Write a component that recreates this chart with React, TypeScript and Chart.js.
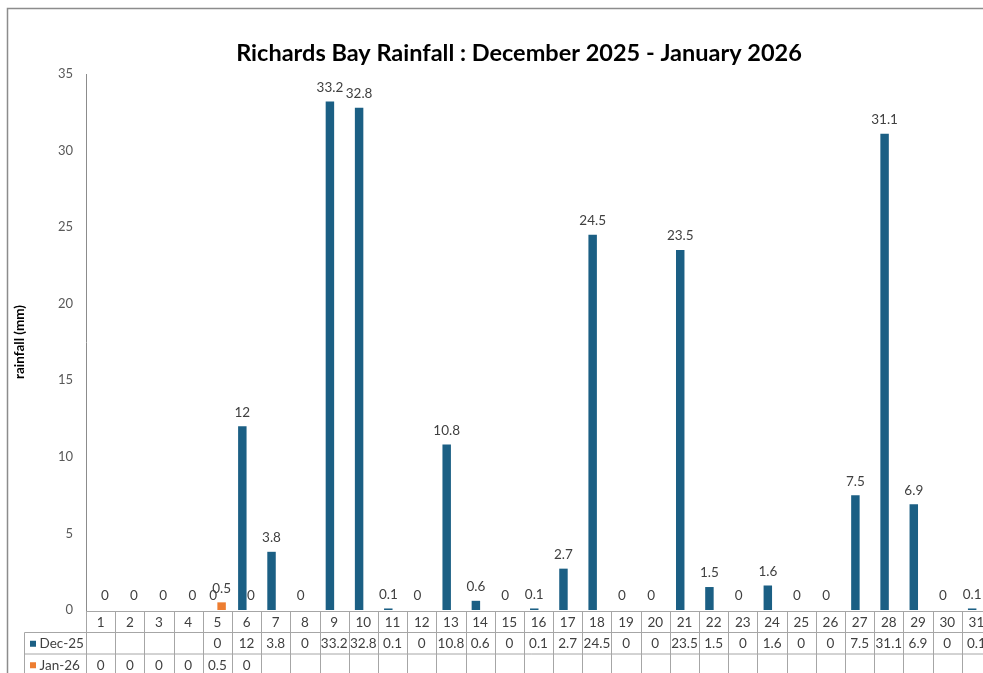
import React, { useEffect, useRef } from "react";
import { Chart, registerables } from "chart.js";

Chart.register(...registerables);

const days: string[] = [
  "1","2","3","4","5","6","7","8","9","10","11","12","13","14","15","16",
  "17","18","19","20","21","22","23","24","25","26","27","28","29","30","31",
];
const dec25: (number | null)[] = [
  null, null, null, null, 0, 12, 3.8, 0, 33.2, 32.8, 0.1, 0, 10.8, 0.6, 0, 0.1,
  2.7, 24.5, 0, 0, 23.5, 1.5, 0, 1.6, 0, 0, 7.5, 31.1, 6.9, 0, 0.1,
];
const jan26: (number | null)[] = [
  0, 0, 0, 0, 0.5, 0, null, null, null, null, null, null, null, null, null, null,
  null, null, null, null, null, null, null, null, null, null, null, null, null, null, null,
];
const seriesNames: string[] = ["Dec-25", "Jan-26"];
const seriesColors: string[] = ["#1B5F84", "#ED7D31"];
const yTicks: number[] = [0, 5, 10, 15, 20, 25, 30, 35];
const chartTitle = "Richards Bay Rainfall : December 2025 - January 2026";

const FONT = "Lato, 'Open Sans', sans-serif";
const TEXT = "#404040";
const LINE = "#A6A6A6";

const tablePlugin = {
  id: "tablePlugin",
  afterDraw(chart: any) {
    const ctx = chart.ctx as CanvasRenderingContext2D;
    const area = chart.chartArea;
    const x = chart.scales.x;
    const n = days.length;
    const w = (area.right - area.left) / n;
    const top = area.bottom + 1;
    const rowH = 21.5;
    const legendLeft = 24.5;
    const W = chart.width;
    const H = chart.height;
    ctx.save();

    // outer frame
    ctx.strokeStyle = "#8C8C8C";
    ctx.lineWidth = 1.5;
    ctx.beginPath();
    ctx.moveTo(7.5, H + 5);
    ctx.lineTo(7.5, 8.5);
    ctx.lineTo(W + 5, 8.5);
    ctx.stroke();

    // title
    ctx.fillStyle = "#000000";
    ctx.font = `bold 23.5px ${FONT}`;
    ctx.textAlign = "center";
    ctx.textBaseline = "middle";
    ctx.fillText(chartTitle, 519, 53);

    // data labels
    ctx.font = `13.5px ${FONT}`;
    ctx.fillStyle = TEXT;
    ctx.textAlign = "center";
    ctx.textBaseline = "middle";
    [dec25, jan26].forEach((arr, di) => {
      const meta = chart.getDatasetMeta(di);
      meta.data.forEach((bar: any, i: number) => {
        const v = arr[i];
        if (v === null || v === undefined) return;
        ctx.fillText(String(v), bar.x, bar.y - 14);
      });
    });

    // table grid
    ctx.strokeStyle = LINE;
    ctx.lineWidth = 1;
    ctx.beginPath();
    ctx.moveTo(area.left, top + 0.5);
    ctx.lineTo(W, top + 0.5);
    ctx.moveTo(legendLeft, top + rowH);
    ctx.lineTo(W, top + rowH);
    ctx.moveTo(legendLeft, top + 2 * rowH);
    ctx.lineTo(W, top + 2 * rowH);
    ctx.moveTo(legendLeft, top + rowH);
    ctx.lineTo(legendLeft, H);
    for (let i = 0; i <= n; i++) {
      const xx = Math.round(area.left + i * w) + 0.5;
      ctx.moveTo(xx, top);
      ctx.lineTo(xx, H);
    }
    ctx.stroke();

    // table text
    ctx.fillStyle = TEXT;
    ctx.font = `13.5px ${FONT}`;
    ctx.textAlign = "center";
    ctx.textBaseline = "middle";
    days.forEach((d, i) => {
      const cx = x.getPixelForValue(i);
      ctx.fillText(d, cx, top + rowH / 2 + 0.5);
      const a = dec25[i];
      if (a !== null) ctx.fillText(String(a), cx, top + rowH * 1.5 + 0.5);
      const b = jan26[i];
      if (b !== null) ctx.fillText(String(b), cx, top + rowH * 2.5 + 0.5);
    });

    // legend keys
    ctx.textAlign = "left";
    seriesNames.forEach((name, k) => {
      const cy = top + rowH * (1.5 + k) + 0.5;
      ctx.fillStyle = seriesColors[k];
      ctx.fillRect(30, cy - 3, 6, 6);
      ctx.fillStyle = TEXT;
      ctx.fillText(name, 39.5, cy);
    });
    ctx.restore();
  },
};

export default function App() {
  const ref = useRef<HTMLCanvasElement | null>(null);
  useEffect(() => {
    document.body.style.margin = "0";
    const canvas = ref.current;
    if (!canvas) return;
    const chart = new Chart(canvas, {
      type: "bar",
      data: {
        labels: days,
        datasets: [
          {
            label: seriesNames[0],
            data: dec25 as any,
            backgroundColor: seriesColors[0],
            categoryPercentage: 0.58,
            barPercentage: 1,
          },
          {
            label: seriesNames[1],
            data: jan26 as any,
            backgroundColor: seriesColors[1],
            categoryPercentage: 0.58,
            barPercentage: 1,
          },
        ],
      },
      options: {
        responsive: false,
        animation: false,
        layout: { padding: { left: 0, right: 47, top: 74, bottom: 63 } },
        plugins: {
          legend: { display: false },
          tooltip: { enabled: false },
          title: { display: false },
        },
        scales: {
          x: { display: false },
          y: {
            min: 0,
            max: 35,
            afterFit: (s: any) => {
              s.width = 86;
            },
            afterBuildTicks: (s: any) => {
              s.ticks = yTicks.map((v) => ({ value: v }));
            },
            grid: { display: false, drawTicks: false },
            border: { display: true, color: "#8C8C8C", width: 1 },
            ticks: {
              color: "#595959",
              font: { family: FONT, size: 13 },
              padding: 13,
            },
            title: {
              display: true,
              text: "rainfall (mm)",
              color: "#000000",
              font: { family: FONT, size: 13.5, weight: "bold", lineHeight: 1.2 },
              padding: { top: 12, bottom: 0 },
            },
          },
        },
      },
      plugins: [tablePlugin],
    });
    return () => chart.destroy();
  }, []);
  return (
    <div
      style={{
        position: "fixed",
        left: 0,
        top: 0,
        width: 983,
        height: 673,
        overflow: "hidden",
        background: "#fff",
      }}
    >
      <canvas ref={ref} width={1038} height={673} style={{ width: 1038, height: 673 }} />
    </div>
  );
}
